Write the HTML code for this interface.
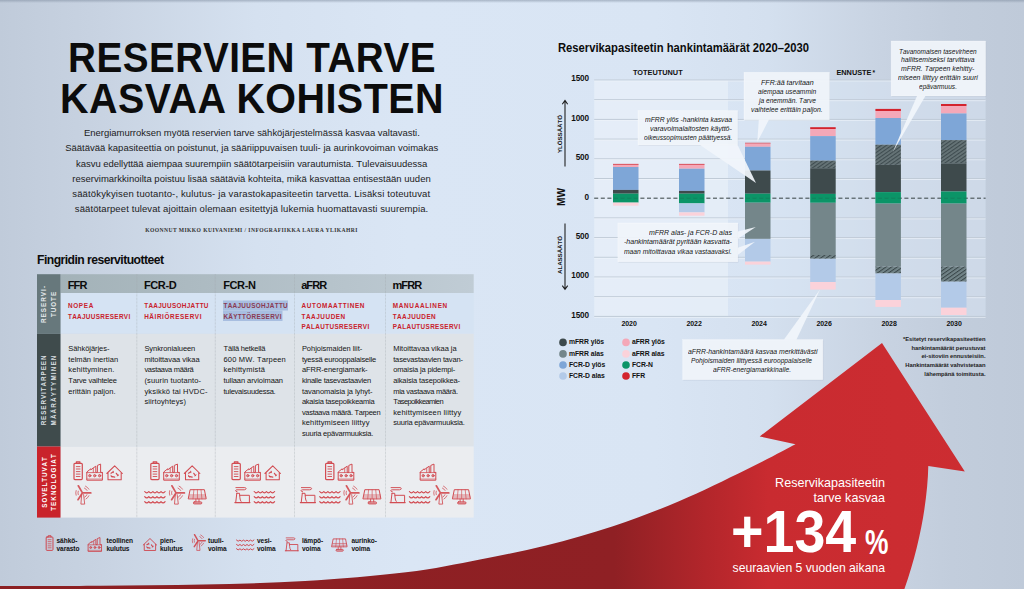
<!DOCTYPE html>
<html lang="fi"><head><meta charset="utf-8"><title>Reservien tarve kasvaa kohisten</title>
<style>
*{margin:0;padding:0;box-sizing:border-box}
html,body{width:1024px;height:589px;overflow:hidden}
body{font-family:"Liberation Sans", sans-serif;color:#111;position:relative;
background:linear-gradient(90deg,#c0cbda 0%,#c8d3e2 10%,#d5e1f0 25%,#dae6f5 40%,#d9e5f4 64%,#d4e0ef 75%,#c9d4e3 85%,#c2cddc 93%,#bfcad9 100%);}
.abs{position:absolute;white-space:nowrap}
#stage{position:absolute;left:0;top:0;width:1024px;height:589px;overflow:hidden}
svg{position:absolute;left:0;top:0}
.t1{font-weight:700;font-size:42px;line-height:42px;letter-spacing:0.5px;color:#0c0c0c;transform-origin:0 0}
.para{line-height:15px;color:#1c1c1c;white-space:nowrap}
.by{font-family:"Liberation Serif", serif;font-weight:700;font-size:5.6px;letter-spacing:0.42px;color:#333}
.h2{font-weight:700;font-size:12.2px;color:#0c0c0c;letter-spacing:-0.55px}
.colh{font-weight:700;color:#0c0c0c}
.sub{font-weight:700;line-height:10.5px;color:#c9222c;white-space:nowrap}
.body{line-height:10.4px;color:#141414;white-space:nowrap}
.side{font-weight:700;font-size:6px;line-height:8.5px;letter-spacing:1.5px;color:#fff;text-align:center;white-space:nowrap;transform:rotate(-90deg);transform-origin:50% 50%}
.leg{font-weight:700;font-size:6.55px;line-height:8.3px;letter-spacing:-0.05px;color:#111;white-space:nowrap}
.ct{font-weight:700;color:#0c0c0c}
.ax{font-weight:700;font-size:8.2px;line-height:10px;letter-spacing:-0.1px;color:#111;text-align:right}
.yr{font-weight:700;font-size:7px;letter-spacing:-0.1px;color:#111;text-align:center}
.cap{font-weight:700;font-size:7.35px;color:#111}
.call{font-style:italic;color:#151515;white-space:nowrap}
.cl{font-weight:700;font-size:6.8px;letter-spacing:-0.05px;color:#111}
.fn{font-weight:700;font-size:5.8px;line-height:8.9px;color:#222;text-align:right;white-space:nowrap}
.rot{transform:rotate(-90deg);transform-origin:50% 50%;font-weight:700;white-space:nowrap}
.w{color:#fff}
</style></head>
<body><div id="stage">
<svg width="1024" height="589" viewBox="0 0 1024 589">
<defs>
<linearGradient id="tg" x1="0" y1="0" x2="0" y2="1"><stop offset="0" stop-color="#7f8da0" stop-opacity="0.55"/><stop offset="1" stop-color="#7f8da0" stop-opacity="0"/></linearGradient>
<linearGradient id="rg" x1="0" y1="0" x2="1024" y2="0" gradientUnits="userSpaceOnUse">
<stop offset="0" stop-color="#8b1f22"/><stop offset="0.6" stop-color="#8f2024"/><stop offset="0.69" stop-color="#b3262b"/><stop offset="0.75" stop-color="#c92b30"/><stop offset="1" stop-color="#cd2d32"/>
</linearGradient>
<linearGradient id="hg" x1="60" y1="0" x2="474" y2="0" gradientUnits="userSpaceOnUse">
<stop offset="0" stop-color="#a3b2b8"/><stop offset="1" stop-color="#c0ccd5"/>
</linearGradient>
<pattern id="hat" width="3" height="3" patternUnits="userSpaceOnUse" patternTransform="rotate(-35)">
<rect width="3" height="3" fill="#667477"/><rect width="3" height="1.1" fill="#3f4c50"/>
</pattern>
<pattern id="hat2" width="3.2" height="3.2" patternUnits="userSpaceOnUse" patternTransform="rotate(-35)">
<rect width="3.2" height="3.2" fill="#728488"/><rect width="3.2" height="1" fill="#394649"/>
</pattern>
<g id="bat" fill="none" stroke="#cf363d" stroke-linejoin="round" stroke-linecap="round">
<path stroke-width="1.2" d="M3.1 2.2V0.7H6.6V2.2M1.7 2.2H8Q9 2.2 9 3.2V17.5Q9 18.5 8 18.5H1.7Q0.7 18.5 0.7 17.5V3.2Q0.7 2.2 1.7 2.2Z"/>
<path stroke-width="0.9" d="M3 5.5H6.7M3 7.9H6.7M3 10.5H6.7M3 13H6.7M3 15.4H6.7"/>
</g>
<g id="fac" fill="none" stroke="#cf363d" stroke-linejoin="round" stroke-linecap="round">
<path stroke-width="1" d="M0.6 16.3V8.5L4.6 5.3V6.4L7.1 4.4L9.6 2.7V8.9H11.2V1.9L14.4 0.6V8.9H16.2V16.3Z"/>
<path stroke-width="0.8" d="M7.1 4.6V8.9M0.6 9.1H16.2"/>
<path stroke-width="0.6" d="M0.6 15.5H16.2"/>
<circle cx="3.6" cy="12.2" r="1.15" fill="#cf363d" fill-opacity="0.55" stroke-width="0.9"/><circle cx="8.5" cy="12.2" r="1.15" fill="#cf363d" fill-opacity="0.55" stroke-width="0.9"/><circle cx="13.4" cy="12.2" r="1.15" fill="#cf363d" fill-opacity="0.55" stroke-width="0.9"/>
</g>
<g id="hou" fill="none" stroke="#cf363d" stroke-linejoin="round" stroke-linecap="round">
<path stroke-width="1.05" d="M0.5 8.2L8.35 0.6L16.1 8.2M1.7 7.3V14.5H14.9V7.3"/>
<path stroke-width="1.25" d="M4.7 7.9L6.7 6.6M10 8L11.6 10.2M5 11L8.4 11.8"/>
<path stroke-width="0.8" d="M6.9 5.9L7.1 7.4M12.4 9.6L10.9 10.6M4.6 9.9L5.6 11.9"/>
</g>
<g id="win" fill="none" stroke="#cf363d" stroke-linejoin="round" stroke-linecap="round">
<path stroke-width="1.7" stroke-opacity="0.92" d="M7.5 7.8L3.5 1M8 8.1H16M7.4 8.5L3.2 14.9"/>
<path stroke-width="0.85" d="M6.9 9.8L6.1 19.3H9.9L8.8 9.8"/>
<path stroke-width="0.75" d="M9.65 3.28A5.2 5.2 0 0 1 12.29 5.66M10.71 1.34A7.4 7.4 0 0 1 14.11 4.40M3.43 9.82A4.6 4.6 0 0 1 3.43 6.38M1.31 10.43A6.8 6.8 0 0 1 1.31 5.77M12.15 9.90A4.8 4.8 0 0 1 9.95 12.34M14.09 10.95A7.0 7.0 0 0 1 11.20 14.16"/>
</g>
<g id="wav" fill="none" stroke="#cf363d" stroke-width="1.15" stroke-linejoin="round" stroke-linecap="round">
<path d="M0.5 0.60Q2.54 3.30 4.58 0.60Q6.62 3.30 8.66 0.60Q10.70 3.30 12.74 0.60Q14.78 3.30 16.82 0.60Q18.86 3.30 20.90 0.60"/><path d="M0.5 5.70Q2.54 8.40 4.58 5.70Q6.62 8.40 8.66 5.70Q10.70 8.40 12.74 5.70Q14.78 8.40 16.82 5.70Q18.86 8.40 20.90 5.70"/><path d="M0.5 10.70Q2.54 13.40 4.58 10.70Q6.62 13.40 8.66 10.70Q10.70 13.40 12.74 10.70Q14.78 13.40 16.82 10.70Q18.86 13.40 20.90 10.70"/>
</g>
<g id="pla" fill="none" stroke="#cf363d" stroke-linejoin="round" stroke-linecap="round">
<path stroke-width="1.25" d="M0.4 15.8H15.4"/>
<path stroke-width="1" d="M2.3 6.5H5L5.4 11Q5.6 13.6 6.5 14.6M2.3 6.5L1.2 15.8M5.3 8.5H14.9V15.8"/>
<path stroke-width="0.95" d="M2.6 5Q1 4.8 1.1 3.7Q1.3 3 2.4 3H9.8Q11.5 2.8 11.6 1.9Q11.4 0.8 10.3 0.8H1.4"/>
</g>
<g id="sol" fill="none" stroke="#cf363d" stroke-linejoin="round" stroke-linecap="round">
<path stroke-width="1" d="M2.3 0.6H16.2L18 9.8H0.4Z"/>
<path stroke-width="0.65" d="M1.2 5.9H17.3M0.8 7.9H17.7M5.7 0.6L4.8 9.8M9.25 0.6V9.8M12.8 0.6L13.7 9.8"/>
<path stroke-width="0.9" d="M7.7 9.9V12.8M10.8 9.9V12.8"/>
<rect x="5.2" y="12.8" width="8.4" height="2" rx="0.9" stroke-width="1" fill="#cf363d" fill-opacity="0.35"/>
</g>
</defs>
<rect x="0" y="0" width="1024" height="3" fill="url(#tg)"/>
<path d="M0 586 C16.7 586.0 66.2 586.0 100 585.7 C133.8 585.5 168.8 585.3 203 584.5 C237.2 583.7 271.2 583.0 305 581 C338.8 579.0 376.8 575.9 406 572.3 C435.2 568.7 456.7 563.9 480 559.4 C503.3 554.9 523.8 551.0 546 545.5 C568.2 540.0 590.8 533.6 613 526.2 C635.2 518.8 656.8 510.7 679 501.3 C701.2 491.9 726.6 479.3 746 469.8 C765.4 460.3 787.2 448.5 795.5 444.2 L759.7 436.4 L882 343 L964.8 471.5 L928.3 466 C927.6 500 920 545 904.4 589 L0 589 Z" fill="url(#rg)"/>
<rect x="60.5" y="274.2" width="413.2" height="18.80000000000001" fill="url(#hg)"/>
<rect x="60.5" y="293" width="413.2" height="40.80000000000001" fill="#d5e3f3"/>
<rect x="60.5" y="333.8" width="413.2" height="112.69999999999999" fill="#dee3e8"/>
<rect x="60.5" y="446.5" width="413.2" height="71.10000000000002" fill="#ebedf0"/>
<rect x="37" y="274.2" width="23.5" height="59.60000000000002" fill="#67787c"/>
<rect x="37" y="333.8" width="23.5" height="112.69999999999999" fill="#3f4b4c"/>
<rect x="37" y="446.5" width="23.5" height="71.10000000000002" fill="#c9232b"/>
<line x1="136.8" y1="274.2" x2="136.8" y2="517.6" stroke="#a3abb0" stroke-width="0.7" stroke-dasharray="0.7 0.7" opacity="0.75"/>
<line x1="215.3" y1="274.2" x2="215.3" y2="517.6" stroke="#a3abb0" stroke-width="0.7" stroke-dasharray="0.7 0.7" opacity="0.75"/>
<line x1="294.5" y1="274.2" x2="294.5" y2="517.6" stroke="#a3abb0" stroke-width="0.7" stroke-dasharray="0.7 0.7" opacity="0.75"/>
<line x1="385.5" y1="274.2" x2="385.5" y2="517.6" stroke="#a3abb0" stroke-width="0.7" stroke-dasharray="0.7 0.7" opacity="0.75"/>
<rect x="223" y="300.5" width="65" height="10" fill="#a8bee0"/>
<rect x="223" y="310.5" width="59.5" height="10.5" fill="#a8bee0"/>
<use href="#bat" x="73.3" y="461.1" opacity="0.88"/>
<use href="#fac" x="86.2" y="463.5" opacity="0.88"/>
<use href="#hou" x="106.3" y="465.3" opacity="0.88"/>
<use href="#win" x="74.8" y="484.8" opacity="0.88"/>
<use href="#bat" x="150.1" y="461.1" opacity="0.88"/>
<use href="#fac" x="163.1" y="463.5" opacity="0.88"/>
<use href="#hou" x="183.8" y="465.3" opacity="0.88"/>
<use href="#wav" x="144.2" y="490.9" opacity="0.88"/>
<use href="#win" x="168.4" y="484.8" opacity="0.88"/>
<use href="#sol" x="188.2" y="489.1" opacity="0.88"/>
<use href="#bat" x="231.3" y="461.1" opacity="0.88"/>
<use href="#fac" x="244.2" y="463.5" opacity="0.88"/>
<use href="#hou" x="264.4" y="465.3" opacity="0.88"/>
<use href="#pla" x="234.5" y="486.8" opacity="0.88"/>
<use href="#wav" x="253.7" y="490.9" opacity="0.88"/>
<use href="#bat" x="324.9" y="461.1" opacity="0.88"/>
<use href="#fac" x="337.6" y="463.5" opacity="0.88"/>
<use href="#pla" x="300.0" y="486.8" opacity="0.88"/>
<use href="#wav" x="319.2" y="490.9" opacity="0.88"/>
<use href="#win" x="342.9" y="484.8" opacity="0.88"/>
<use href="#sol" x="362.9" y="489.1" opacity="0.88"/>
<use href="#fac" x="419.6" y="463.5" opacity="0.88"/>
<use href="#pla" x="389.7" y="486.8" opacity="0.88"/>
<use href="#wav" x="408.9" y="490.9" opacity="0.88"/>
<use href="#win" x="432.8" y="484.8" opacity="0.88"/>
<use href="#sol" x="452.4" y="489.1" opacity="0.88"/>
<use href="#bat" transform="translate(45.6 535.2) scale(0.82)" opacity="0.9"/>
<use href="#fac" transform="translate(87.6 537.0) scale(0.86)" opacity="0.9"/>
<use href="#hou" transform="translate(142.8 538.0) scale(0.86)" opacity="0.9"/>
<use href="#win" transform="translate(191.5 533.8) scale(0.86)" opacity="0.9"/>
<use href="#wav" transform="translate(236.0 539.6) scale(0.86)" opacity="0.9"/>
<use href="#pla" transform="translate(285.0 537.2) scale(0.86)" opacity="0.9"/>
<use href="#sol" transform="translate(331.6 538.4) scale(0.86)" opacity="0.9"/>
<rect x="594.2" y="80.6" width="133.79999999999995" height="235.8" fill="#e6eef8" opacity="0.85"/>
<rect x="728" y="80.6" width="257.6" height="235.8" fill="#dce8f7" opacity="0.48"/>
<line x1="594.2" y1="316.4" x2="985.6" y2="316.4" stroke="#c0cbd7" stroke-width="1"/>
<line x1="594.2" y1="317.4" x2="985.6" y2="317.4" stroke="#f0f5fb" stroke-width="0.8" opacity="0.8"/>
<line x1="594.2" y1="296.7" x2="985.6" y2="296.7" stroke="#c0cbd7" stroke-width="1"/>
<line x1="594.2" y1="297.7" x2="985.6" y2="297.7" stroke="#f0f5fb" stroke-width="0.8" opacity="0.8"/>
<line x1="594.2" y1="277.0" x2="985.6" y2="277.0" stroke="#c0cbd7" stroke-width="1"/>
<line x1="594.2" y1="278.0" x2="985.6" y2="278.0" stroke="#f0f5fb" stroke-width="0.8" opacity="0.8"/>
<line x1="594.2" y1="257.3" x2="985.6" y2="257.3" stroke="#c0cbd7" stroke-width="1"/>
<line x1="594.2" y1="258.3" x2="985.6" y2="258.3" stroke="#f0f5fb" stroke-width="0.8" opacity="0.8"/>
<line x1="594.2" y1="237.6" x2="985.6" y2="237.6" stroke="#c0cbd7" stroke-width="1"/>
<line x1="594.2" y1="238.6" x2="985.6" y2="238.6" stroke="#f0f5fb" stroke-width="0.8" opacity="0.8"/>
<line x1="594.2" y1="217.9" x2="985.6" y2="217.9" stroke="#c0cbd7" stroke-width="1"/>
<line x1="594.2" y1="218.9" x2="985.6" y2="218.9" stroke="#f0f5fb" stroke-width="0.8" opacity="0.8"/>
<line x1="594.2" y1="178.5" x2="985.6" y2="178.5" stroke="#c0cbd7" stroke-width="1"/>
<line x1="594.2" y1="179.5" x2="985.6" y2="179.5" stroke="#f0f5fb" stroke-width="0.8" opacity="0.8"/>
<line x1="594.2" y1="158.8" x2="985.6" y2="158.8" stroke="#c0cbd7" stroke-width="1"/>
<line x1="594.2" y1="159.8" x2="985.6" y2="159.8" stroke="#f0f5fb" stroke-width="0.8" opacity="0.8"/>
<line x1="594.2" y1="139.1" x2="985.6" y2="139.1" stroke="#c0cbd7" stroke-width="1"/>
<line x1="594.2" y1="140.1" x2="985.6" y2="140.1" stroke="#f0f5fb" stroke-width="0.8" opacity="0.8"/>
<line x1="594.2" y1="119.4" x2="985.6" y2="119.4" stroke="#c0cbd7" stroke-width="1"/>
<line x1="594.2" y1="120.4" x2="985.6" y2="120.4" stroke="#f0f5fb" stroke-width="0.8" opacity="0.8"/>
<line x1="594.2" y1="99.7" x2="985.6" y2="99.7" stroke="#c0cbd7" stroke-width="1"/>
<line x1="594.2" y1="100.7" x2="985.6" y2="100.7" stroke="#f0f5fb" stroke-width="0.8" opacity="0.8"/>
<line x1="594.2" y1="80.0" x2="985.6" y2="80.0" stroke="#c0cbd7" stroke-width="1"/>
<line x1="594.2" y1="81.0" x2="985.6" y2="81.0" stroke="#f0f5fb" stroke-width="0.8" opacity="0.8"/>
<line x1="594.2" y1="198.2" x2="985.6" y2="198.2" stroke="#4a5558" stroke-width="1" stroke-dasharray="4 2.6"/>
<rect x="613.0" y="163.9" width="25.5" height="0.9" fill="#d3232d"/>
<rect x="613.0" y="164.8" width="25.5" height="2.2" fill="#f4a8b8"/>
<rect x="613.0" y="167" width="25.5" height="22.9" fill="#7ea6d7"/>
<rect x="613.0" y="189.9" width="25.5" height="3.8" fill="#3e4a4c"/>
<rect x="613.0" y="193.7" width="25.5" height="8.9" fill="#0b9467"/>
<rect x="613.0" y="202.6" width="25.5" height="3.1" fill="#fbd2da"/>
<rect x="679.0" y="163.9" width="25.5" height="0.9" fill="#d3232d"/>
<rect x="679.0" y="164.8" width="25.5" height="3.9" fill="#f4a8b8"/>
<rect x="679.0" y="168.7" width="25.5" height="22.2" fill="#7ea6d7"/>
<rect x="679.0" y="190.9" width="25.5" height="2.8" fill="#3e4a4c"/>
<rect x="679.0" y="193.7" width="25.5" height="9.7" fill="#0b9467"/>
<rect x="679.0" y="203.4" width="25.5" height="9.0" fill="#b3cae8"/>
<rect x="679.0" y="212.4" width="25.5" height="3.3" fill="#fbd2da"/>
<rect x="745.0" y="142.8" width="25.5" height="0.8" fill="#d3232d"/>
<rect x="745.0" y="143.6" width="25.5" height="3.2" fill="#f4a8b8"/>
<rect x="745.0" y="146.8" width="25.5" height="23.7" fill="#7ea6d7"/>
<rect x="745.0" y="170.5" width="25.5" height="23.2" fill="#3e4a4c"/>
<rect x="745.0" y="193.7" width="25.5" height="9.0" fill="#0b9467"/>
<rect x="745.0" y="202.7" width="25.5" height="36.2" fill="#74868a"/>
<rect x="745.0" y="238.9" width="25.5" height="22.7" fill="#b3cae8"/>
<rect x="745.0" y="261.6" width="25.5" height="3.0" fill="#fbd2da"/>
<rect x="810.2" y="127.2" width="25.5" height="1.8" fill="#d3232d"/>
<rect x="810.2" y="129" width="25.5" height="7.1" fill="#f4a8b8"/>
<rect x="810.2" y="136.1" width="25.5" height="24.5" fill="#7ea6d7"/>
<rect x="810.2" y="160.6" width="25.5" height="7.6" fill="url(#hat)"/>
<rect x="810.2" y="168.2" width="25.5" height="25.7" fill="#3e4a4c"/>
<rect x="810.2" y="193.9" width="25.5" height="8.9" fill="#0b9467"/>
<rect x="810.2" y="202.8" width="25.5" height="52.2" fill="#74868a"/>
<rect x="810.2" y="255" width="25.5" height="3.8" fill="url(#hat2)"/>
<rect x="810.2" y="258.8" width="25.5" height="23.2" fill="#b3cae8"/>
<rect x="810.2" y="282" width="25.5" height="7.6" fill="#fbd2da"/>
<rect x="875.4" y="108.9" width="25.5" height="2.1" fill="#d3232d"/>
<rect x="875.4" y="111" width="25.5" height="7.0" fill="#f4a8b8"/>
<rect x="875.4" y="118" width="25.5" height="26.7" fill="#7ea6d7"/>
<rect x="875.4" y="144.7" width="25.5" height="20.2" fill="url(#hat)"/>
<rect x="875.4" y="164.9" width="25.5" height="27.2" fill="#3e4a4c"/>
<rect x="875.4" y="192.1" width="25.5" height="11.5" fill="#0b9467"/>
<rect x="875.4" y="203.6" width="25.5" height="62.8" fill="#74868a"/>
<rect x="875.4" y="266.4" width="25.5" height="7.1" fill="url(#hat2)"/>
<rect x="875.4" y="273.5" width="25.5" height="26.5" fill="#b3cae8"/>
<rect x="875.4" y="300" width="25.5" height="6.9" fill="#fbd2da"/>
<rect x="941.0" y="104" width="25.5" height="2.1" fill="#d3232d"/>
<rect x="941.0" y="106.1" width="25.5" height="7.4" fill="#f4a8b8"/>
<rect x="941.0" y="113.5" width="25.5" height="26.6" fill="#7ea6d7"/>
<rect x="941.0" y="140.1" width="25.5" height="23.2" fill="url(#hat)"/>
<rect x="941.0" y="163.3" width="25.5" height="28.2" fill="#3e4a4c"/>
<rect x="941.0" y="191.5" width="25.5" height="12.1" fill="#0b9467"/>
<rect x="941.0" y="203.6" width="25.5" height="62.8" fill="#74868a"/>
<rect x="941.0" y="266.4" width="25.5" height="15.3" fill="url(#hat2)"/>
<rect x="941.0" y="281.7" width="25.5" height="26.0" fill="#b3cae8"/>
<rect x="941.0" y="307.7" width="25.5" height="7.3" fill="#fbd2da"/>
<line x1="594.2" y1="198.2" x2="985.6" y2="198.2" stroke="#2f3a3c" stroke-opacity="0.22" stroke-width="1" stroke-dasharray="4 2.6"/>
<path d="M565 166.4V101M562.3 104.2L565 100.4L567.7 104.2" fill="none" stroke="#1a1a1a" stroke-width="1.05"/>
<path d="M565 223.6V288.8M562.3 285.6L565 289.4L567.7 285.6" fill="none" stroke="#1a1a1a" stroke-width="1.05"/>
<rect x="638.6" y="111.5" width="99.6" height="34.4" fill="#7d8b9d" fill-opacity="0.16"/>
<rect x="638" y="110.6" width="99.6" height="34.4" fill="#f1f5fb" fill-opacity="0.93" stroke="#ffffff" stroke-opacity="0.5" stroke-width="0.5"/>
<polygon points="700,145 737.6,145 756,183" fill="#f1f5fb" fill-opacity="0.93"/>
<rect x="744.6" y="73.2" width="85.4" height="47.5" fill="#7d8b9d" fill-opacity="0.16"/>
<rect x="744" y="72.3" width="85.4" height="47.5" fill="#f1f5fb" fill-opacity="0.93" stroke="#ffffff" stroke-opacity="0.5" stroke-width="0.5"/>
<polygon points="758.8,119.6 769,119.6 757.3,142" fill="#f1f5fb" fill-opacity="0.93"/>
<rect x="891.7" y="41.9" width="94.5" height="55.0" fill="#7d8b9d" fill-opacity="0.16"/>
<rect x="891.1" y="41" width="94.5" height="55.0" fill="#f1f5fb" fill-opacity="0.93" stroke="#ffffff" stroke-opacity="0.5" stroke-width="0.5"/>
<polygon points="917,96 925.4,96 892.7,152.3" fill="#f1f5fb" fill-opacity="0.93"/>
<rect x="618.5" y="223.9" width="119.9" height="38.8" fill="#7d8b9d" fill-opacity="0.16"/>
<rect x="617.9" y="223" width="119.9" height="38.8" fill="#f1f5fb" fill-opacity="0.93" stroke="#ffffff" stroke-opacity="0.5" stroke-width="0.5"/>
<polygon points="737.8,231.4 737.8,238.8 755.8,226.9" fill="#f1f5fb" fill-opacity="0.93"/>
<polygon points="737.8,247.8 737.8,255 755,241.8" fill="#f1f5fb" fill-opacity="0.93"/>
<rect x="683.3000000000001" y="340.5" width="140.1" height="40.1" fill="#7d8b9d" fill-opacity="0.16"/>
<rect x="682.7" y="339.6" width="140.1" height="40.1" fill="#f1f5fb" fill-opacity="0.93" stroke="#ffffff" stroke-opacity="0.5" stroke-width="0.5"/>
<polygon points="783.8,339.8 796.4,339.8 820,289.6" fill="#f1f5fb" fill-opacity="0.93"/>
<circle cx="563" cy="342.4" r="3.8" fill="#3e4a4c"/>
<circle cx="563" cy="353.9" r="3.8" fill="#74868a"/>
<circle cx="563" cy="365" r="3.8" fill="#7ea6d7"/>
<circle cx="563" cy="376" r="3.8" fill="#b3cae8"/>
<circle cx="626" cy="342.4" r="3.8" fill="#f4a8b8"/>
<circle cx="626" cy="353.9" r="3.8" fill="#fbd2da"/>
<circle cx="626" cy="365" r="3.8" fill="#0b9467"/>
<circle cx="626" cy="376" r="3.8" fill="#d3232d"/>
</svg>
<div class="abs t1" style="left:68.2px;top:37px;transform:scaleX(0.921)">RESERVIEN TARVE</div>
<div class="abs t1" style="left:60.2px;top:78px;transform:scaleX(0.939)">KASVAA KOHISTEN</div>
<div class="abs para" style="left:84.00px;top:125.4px;font-size:9.5px;letter-spacing:-0.028px;font-kerning:none;">Energiamurroksen myötä reservien tarve sähköjärjestelmässä kasvaa valtavasti.</div>
<div class="abs para" style="left:65.20px;top:140.48000000000002px;font-size:9.5px;letter-spacing:0.008px;font-kerning:none;">Säätävää kapasiteettia on poistunut, ja sääriippuvaisen tuuli- ja aurinkovoiman voimakas</div>
<div class="abs para" style="left:76.00px;top:155.56px;font-size:9.5px;letter-spacing:-0.033px;font-kerning:none;">kasvu edellyttää aiempaa suurempiin säätötarpeisiin varautumista. Tulevaisuudessa</div>
<div class="abs para" style="left:72.30px;top:170.64000000000001px;font-size:9.5px;letter-spacing:0.011px;font-kerning:none;">reservimarkkinoilta poistuu lisää säätäviä kohteita, mikä kasvattaa entisestään uuden</div>
<div class="abs para" style="left:72.30px;top:185.72px;font-size:9.5px;letter-spacing:0.143px;font-kerning:none;">säätökykyisen tuotanto-, kulutus- ja varastokapasiteetin tarvetta. Lisäksi toteutuvat</div>
<div class="abs para" style="left:74.80px;top:200.8px;font-size:9.5px;letter-spacing:0.106px;font-kerning:none;">säätötarpeet tulevat ajoittain olemaan esitettyjä lukemia huomattavasti suurempia.</div>
<div class="abs by" style="left:51.5px;top:227px;width:400px;text-align:center">KOONNUT MIKKO KUIVANIEMI / INFOGRAFIIKKA LAURA YLIKAHRI</div>
<div class="abs h2" style="left:37px;top:253.2px;">Fingridin reservituotteet</div>
<div class="abs colh" style="left:67.65px;top:278.6px;font-size:11px;letter-spacing:-0.816px;font-kerning:none;">FFR</div>
<div class="abs colh" style="left:143.90px;top:278.6px;font-size:11px;letter-spacing:-0.366px;font-kerning:none;">FCR-D</div>
<div class="abs colh" style="left:223.15px;top:278.6px;font-size:11px;letter-spacing:-0.366px;font-kerning:none;">FCR-N</div>
<div class="abs colh" style="left:301.15px;top:278.6px;font-size:11px;letter-spacing:-0.908px;font-kerning:none;">aFRR</div>
<div class="abs colh" style="left:392.40px;top:278.6px;font-size:11px;letter-spacing:-0.879px;font-kerning:none;">mFRR</div>
<div class="abs sub" style="left:67.95px;top:301.0px;font-size:6.4px;letter-spacing:0.648px;font-kerning:none;">NOPEA</div>
<div class="abs sub" style="left:67.95px;top:311.5px;font-size:6.4px;letter-spacing:0.310px;font-kerning:none;">TAAJUUSRESERVI</div>
<div class="abs sub" style="left:144.20px;top:301.0px;font-size:6.4px;letter-spacing:0.300px;font-kerning:none;">TAAJUUSOHJATTU</div>
<div class="abs sub" style="left:144.20px;top:311.5px;font-size:6.4px;letter-spacing:0.571px;font-kerning:none;">HÄIRIÖRESERVI</div>
<div class="abs sub" style="left:223.45px;top:301.0px;font-size:6.4px;letter-spacing:0.300px;font-kerning:none;color:#8a3a52">TAAJUUSOHJATTU</div>
<div class="abs sub" style="left:223.45px;top:311.5px;font-size:6.4px;letter-spacing:0.308px;font-kerning:none;color:#8a3a52">KÄYTTÖRESERVI</div>
<div class="abs sub" style="left:301.45px;top:301.0px;font-size:6.4px;letter-spacing:0.607px;font-kerning:none;">AUTOMAATTINEN</div>
<div class="abs sub" style="left:301.45px;top:311.5px;font-size:6.4px;letter-spacing:0.548px;font-kerning:none;">TAAJUUDEN</div>
<div class="abs sub" style="left:301.45px;top:322.0px;font-size:6.4px;letter-spacing:0.351px;font-kerning:none;">PALAUTUSRESERVI</div>
<div class="abs sub" style="left:392.70px;top:301.0px;font-size:6.4px;letter-spacing:0.696px;font-kerning:none;">MANUAALINEN</div>
<div class="abs sub" style="left:392.70px;top:311.5px;font-size:6.4px;letter-spacing:0.454px;font-kerning:none;">TAAJUUDEN</div>
<div class="abs sub" style="left:392.70px;top:322.0px;font-size:6.4px;letter-spacing:0.333px;font-kerning:none;">PALAUTUSRESERVI</div>
<div class="abs body" style="left:68.30px;top:344.3px;font-size:7.5px;letter-spacing:-0.053px;font-kerning:none;">Sähköjärjes-</div>
<div class="abs body" style="left:68.30px;top:354.88px;font-size:7.5px;letter-spacing:0.043px;font-kerning:none;">telmän inertian</div>
<div class="abs body" style="left:68.30px;top:365.46000000000004px;font-size:7.5px;letter-spacing:0.151px;font-kerning:none;">kehittyminen.</div>
<div class="abs body" style="left:68.30px;top:376.04px;font-size:7.5px;letter-spacing:-0.184px;font-kerning:none;">Tarve vaihtelee</div>
<div class="abs body" style="left:68.30px;top:386.62px;font-size:7.5px;letter-spacing:0.034px;font-kerning:none;">erittäin paljon.</div>
<div class="abs body" style="left:144.40px;top:344.3px;font-size:7.5px;letter-spacing:-0.062px;font-kerning:none;">Synkronialueen</div>
<div class="abs body" style="left:144.40px;top:354.88px;font-size:7.5px;letter-spacing:-0.041px;font-kerning:none;">mitoittavaa vikaa</div>
<div class="abs body" style="left:144.40px;top:365.46000000000004px;font-size:7.5px;letter-spacing:-0.305px;font-kerning:none;">vastaava määrä</div>
<div class="abs body" style="left:144.40px;top:376.04px;font-size:7.5px;letter-spacing:0.130px;font-kerning:none;">(suurin tuotanto-</div>
<div class="abs body" style="left:144.40px;top:386.62px;font-size:7.5px;letter-spacing:0.167px;font-kerning:none;">yksikkö tai HVDC-</div>
<div class="abs body" style="left:144.40px;top:397.2px;font-size:7.5px;letter-spacing:0.124px;font-kerning:none;">siirtoyhteys)</div>
<div class="abs body" style="left:223.50px;top:344.3px;font-size:7.5px;letter-spacing:-0.169px;font-kerning:none;">Tällä hetkellä</div>
<div class="abs body" style="left:223.50px;top:354.88px;font-size:7.5px;letter-spacing:0.162px;font-kerning:none;">600 MW. Tarpeen</div>
<div class="abs body" style="left:223.50px;top:365.46000000000004px;font-size:7.5px;letter-spacing:0.155px;font-kerning:none;">kehittymistä</div>
<div class="abs body" style="left:223.50px;top:376.04px;font-size:7.5px;letter-spacing:-0.080px;font-kerning:none;">tullaan arvioimaan</div>
<div class="abs body" style="left:223.50px;top:386.62px;font-size:7.5px;letter-spacing:-0.245px;font-kerning:none;">tulevaisuudessa.</div>
<div class="abs body" style="left:301.90px;top:344.3px;font-size:7.5px;letter-spacing:-0.031px;font-kerning:none;">Pohjoismaiden liit-</div>
<div class="abs body" style="left:301.90px;top:354.88px;font-size:7.5px;letter-spacing:-0.190px;font-kerning:none;">tyessä eurooppalaiselle</div>
<div class="abs body" style="left:301.90px;top:365.46000000000004px;font-size:7.5px;letter-spacing:-0.035px;font-kerning:none;">aFRR-energiamark-</div>
<div class="abs body" style="left:301.90px;top:376.04px;font-size:7.5px;letter-spacing:-0.194px;font-kerning:none;">kinalle tasevastaavien</div>
<div class="abs body" style="left:301.90px;top:386.62px;font-size:7.5px;letter-spacing:-0.072px;font-kerning:none;">tavanomaisia ja lyhyt-</div>
<div class="abs body" style="left:301.90px;top:397.2px;font-size:7.5px;letter-spacing:-0.226px;font-kerning:none;">akaisia tasepoikkeamia</div>
<div class="abs body" style="left:301.90px;top:407.78000000000003px;font-size:7.5px;letter-spacing:-0.307px;font-kerning:none;">vastaava määrä. Tarpeen</div>
<div class="abs body" style="left:301.90px;top:418.36px;font-size:7.5px;letter-spacing:0.145px;font-kerning:none;">kehittymiseen liittyy</div>
<div class="abs body" style="left:301.90px;top:428.94px;font-size:7.5px;letter-spacing:-0.198px;font-kerning:none;">suuria epävarmuuksia.</div>
<div class="abs body" style="left:393.20px;top:344.3px;font-size:7.5px;letter-spacing:-0.015px;font-kerning:none;">Mitoittavaa vikaa ja</div>
<div class="abs body" style="left:393.20px;top:354.88px;font-size:7.5px;letter-spacing:-0.158px;font-kerning:none;">tasevastaavien tavan-</div>
<div class="abs body" style="left:393.20px;top:365.46000000000004px;font-size:7.5px;letter-spacing:-0.139px;font-kerning:none;">omaisia ja pidempi-</div>
<div class="abs body" style="left:393.20px;top:376.04px;font-size:7.5px;letter-spacing:-0.136px;font-kerning:none;">aikaisia tasepoikkea-</div>
<div class="abs body" style="left:393.20px;top:386.62px;font-size:7.5px;letter-spacing:-0.267px;font-kerning:none;">mia vastaava määrä.</div>
<div class="abs body" style="left:393.20px;top:397.2px;font-size:7.5px;letter-spacing:-0.599px;font-kerning:none;">Tasepoikkeamien</div>
<div class="abs body" style="left:393.20px;top:407.78000000000003px;font-size:7.5px;letter-spacing:0.170px;font-kerning:none;">kehittymiseen liittyy</div>
<div class="abs body" style="left:393.20px;top:418.36px;font-size:7.5px;letter-spacing:-0.193px;font-kerning:none;">suuria epävarmuuksia.</div>
<div class="abs" style="left:44.4px;top:304.4px;font-weight:700;font-size:7.3px;line-height:7.3px;letter-spacing:1.237px;margin-right:-1.237px;font-kerning:none;color:#e4e9eb;transform:translate(-50%,-50%) rotate(-90deg) scaleX(0.86)">RESERVI-</div>
<div class="abs" style="left:54.0px;top:304.4px;font-weight:700;font-size:7.3px;line-height:7.3px;letter-spacing:1.141px;margin-right:-1.141px;font-kerning:none;color:#e4e9eb;transform:translate(-50%,-50%) rotate(-90deg) scaleX(0.86)">TUOTE</div>
<div class="abs" style="left:44.4px;top:390.3px;font-weight:700;font-size:7.3px;line-height:7.3px;letter-spacing:1.095px;margin-right:-1.095px;font-kerning:none;color:#d9dfe1;transform:translate(-50%,-50%) rotate(-90deg) scaleX(0.86)">RESERVITARPEEN</div>
<div class="abs" style="left:54.0px;top:390.3px;font-weight:700;font-size:7.3px;line-height:7.3px;letter-spacing:1.356px;margin-right:-1.356px;font-kerning:none;color:#d9dfe1;transform:translate(-50%,-50%) rotate(-90deg) scaleX(0.86)">MÄÄRÄYTYMINEN</div>
<div class="abs" style="left:44.6px;top:482.3px;font-weight:700;font-size:7.3px;line-height:7.3px;letter-spacing:1.072px;margin-right:-1.072px;font-kerning:none;color:#ffffff;transform:translate(-50%,-50%) rotate(-90deg) scaleX(0.86)">SOVELTUVAT</div>
<div class="abs" style="left:54.0px;top:482.4px;font-weight:700;font-size:7.3px;line-height:7.3px;letter-spacing:1.269px;margin-right:-1.269px;font-kerning:none;color:#ffffff;transform:translate(-50%,-50%) rotate(-90deg) scaleX(0.86)">TEKNOLOGIAT</div>
<div class="abs leg" style="left:56.5px;top:536.8px;">sähkö-<br>varasto</div>
<div class="abs leg" style="left:106.5px;top:536.8px;">teollinen<br>kulutus</div>
<div class="abs leg" style="left:160px;top:536.8px;">pien-<br>kulutus</div>
<div class="abs leg" style="left:208px;top:536.8px;">tuuli-<br>voima</div>
<div class="abs leg" style="left:257px;top:536.8px;">vesi-<br>voima</div>
<div class="abs leg" style="left:302px;top:536.8px;">lämpö-<br>voima</div>
<div class="abs leg" style="left:351.5px;top:536.8px;">aurinko-<br>voima</div>
<div class="abs ct" style="left:557.60px;top:41.2px;font-size:13.6px;line-height:13.6px;font-kerning:none;transform:scaleX(0.8265);transform-origin:0 0;">Reservikapasiteetin hankintamäärät 2020–2030</div>
<div class="abs cap" style="left:633.0px;top:68.3px;">TOTEUTUNUT</div>
<div class="abs cap" style="left:836.4px;top:68.3px;">ENNUSTE<span style="margin-left:1px;font-size:6.6px;position:relative;top:-0.6px">*</span></div>
<div class="abs ax" style="left:549px;width:40px;top:74.4px">1500</div>
<div class="abs ax" style="left:549px;width:40px;top:113.8px">1000</div>
<div class="abs ax" style="left:549px;width:40px;top:153.2px">500</div>
<div class="abs ax" style="left:549px;width:40px;top:192.6px">0</div>
<div class="abs ax" style="left:549px;width:40px;top:232.0px">500</div>
<div class="abs ax" style="left:549px;width:40px;top:271.4px">1000</div>
<div class="abs ax" style="left:549px;width:40px;top:310.8px">1500</div>
<div class="abs yr" style="left:609.1px;width:40px;top:320.2px">2020</div>
<div class="abs yr" style="left:674.1px;width:40px;top:320.2px">2022</div>
<div class="abs yr" style="left:739.1px;width:40px;top:320.2px">2024</div>
<div class="abs yr" style="left:804.1px;width:40px;top:320.2px">2026</div>
<div class="abs yr" style="left:869.1px;width:40px;top:320.2px">2028</div>
<div class="abs yr" style="left:934.1px;width:40px;top:320.2px">2030</div>
<div class="abs rot" style="left:519.8px;top:127.80000000000001px;width:80px;height:12px;line-height:12px;text-align:center;font-size:6.25px;letter-spacing:-0.1px">YLÖSSÄÄTÖ</div>
<div class="abs rot" style="left:519.8px;top:249px;width:80px;height:12px;line-height:12px;text-align:center;font-size:6.25px;letter-spacing:-0.1px">ALASSÄÄTÖ</div>
<div class="abs rot" style="left:522px;top:190.8px;width:80px;height:12px;line-height:12px;text-align:center;font-size:10.2px;letter-spacing:0px">MW</div>
<div class="abs call" style="left:645.20px;top:115.7px;font-size:7.4px;line-height:7.4px;font-kerning:none;transform:scaleX(0.9219);transform-origin:0 0;">mFRR ylös -hankinta kasvaa</div>
<div class="abs call" style="left:650.40px;top:124.8px;font-size:7.4px;line-height:7.4px;font-kerning:none;transform:scaleX(0.9539);transform-origin:0 0;">varavoimalaitosten käyttö-</div>
<div class="abs call" style="left:644.00px;top:133.6px;font-size:7.4px;line-height:7.4px;font-kerning:none;transform:scaleX(0.8917);transform-origin:0 0;">oikeussopimusten päättyessä.</div>
<div class="abs call" style="left:760.80px;top:79.3px;font-size:7.4px;line-height:7.4px;font-kerning:none;transform:scaleX(0.9581);transform-origin:0 0;">FFR:ää tarvitaan</div>
<div class="abs call" style="left:757.80px;top:88.3px;font-size:7.4px;line-height:7.4px;font-kerning:none;transform:scaleX(0.9013);transform-origin:0 0;">aiempaa useammin</div>
<div class="abs call" style="left:758.50px;top:97.1px;font-size:7.4px;line-height:7.4px;font-kerning:none;transform:scaleX(0.8957);transform-origin:0 0;">ja enemmän. Tarve</div>
<div class="abs call" style="left:751.00px;top:105.9px;font-size:7.4px;line-height:7.4px;font-kerning:none;transform:scaleX(0.9235);transform-origin:0 0;">vaihtelee erittäin paljon.</div>
<div class="abs call" style="left:899.00px;top:47.8px;font-size:7.4px;line-height:7.4px;font-kerning:none;transform:scaleX(0.8745);transform-origin:0 0;">Tavanomaisen tasevirheen</div>
<div class="abs call" style="left:901.00px;top:56.4px;font-size:7.4px;line-height:7.4px;font-kerning:none;transform:scaleX(0.9238);transform-origin:0 0;">hallitsemiseksi tarvittava</div>
<div class="abs call" style="left:901.00px;top:65.2px;font-size:7.4px;line-height:7.4px;font-kerning:none;transform:scaleX(0.9309);transform-origin:0 0;">mFRR. Tarpeen kehitty-</div>
<div class="abs call" style="left:897.90px;top:74.4px;font-size:7.4px;line-height:7.4px;font-kerning:none;transform:scaleX(0.9431);transform-origin:0 0;">miseen liittyy erittäin suuri</div>
<div class="abs call" style="left:918.60px;top:83.1px;font-size:7.4px;line-height:7.4px;font-kerning:none;transform:scaleX(0.8883);transform-origin:0 0;">epävarmuus.</div>
<div class="abs call" style="left:649.30px;top:229.2px;font-size:7.4px;line-height:7.4px;font-kerning:none;transform:scaleX(0.9433);transform-origin:0 0;">mFRR alas- ja FCR-D alas</div>
<div class="abs call" style="left:624.30px;top:238.1px;font-size:7.4px;line-height:7.4px;font-kerning:none;transform:scaleX(0.9479);transform-origin:0 0;">-hankintamäärät pyritään kasvatta-</div>
<div class="abs call" style="left:624.30px;top:247.5px;font-size:7.4px;line-height:7.4px;font-kerning:none;transform:scaleX(0.9117);transform-origin:0 0;">maan mitoittavaa vikaa vastaavaksi.</div>
<div class="abs call" style="left:687.50px;top:347.6px;font-size:7.4px;line-height:7.4px;font-kerning:none;transform:scaleX(0.9276);transform-origin:0 0;">aFRR-hankintamäärä kasvaa merkittävästi</div>
<div class="abs call" style="left:691.30px;top:356.9px;font-size:7.4px;line-height:7.4px;font-kerning:none;transform:scaleX(0.8983);transform-origin:0 0;">Pohjoismaiden liittyessä eurooppalaiselle</div>
<div class="abs call" style="left:713.30px;top:366.0px;font-size:7.4px;line-height:7.4px;font-kerning:none;transform:scaleX(0.9086);transform-origin:0 0;">aFRR-energiamarkkinalle.</div>
<div class="abs cl" style="left:569px;top:338.29999999999995px;">mFRR ylös</div>
<div class="abs cl" style="left:569px;top:349.79999999999995px;">mFRR alas</div>
<div class="abs cl" style="left:569px;top:360.9px;">FCR-D ylös</div>
<div class="abs cl" style="left:569px;top:371.9px;">FCR-D alas</div>
<div class="abs cl" style="left:632px;top:338.29999999999995px;">aFRR ylös</div>
<div class="abs cl" style="left:632px;top:349.79999999999995px;">aFRR alas</div>
<div class="abs cl" style="left:632px;top:360.9px;">FCR-N</div>
<div class="abs cl" style="left:632px;top:371.9px;">FFR</div>
<div class="abs fn" style="left:865px;width:120.5px;top:334.6px">*Esitetyt reservikapasiteettien<br>hankintamäärät perustuvat<br>ei-sitoviin ennusteisiin.<br>Hankintamäärät vahvistetaan<br>lähempänä toimitusta.</div>
<div class="abs w" style="left:685px;width:200px;text-align:right;top:475.7px;font-size:12.6px;line-height:15px">Reservikapasiteetin</div>
<div class="abs w" style="left:685px;width:200px;text-align:right;top:490.7px;font-size:12.6px;line-height:15px">tarve kasvaa</div>
<div class="abs w" style="left:731.3px;top:499px;font-size:60px;line-height:66px;font-weight:700;transform:scaleX(0.927);transform-origin:0 0">+134</div>
<div class="abs w" style="left:865.4px;top:523px;font-size:34.5px;line-height:38px;font-weight:700;transform:scaleX(0.765);transform-origin:0 0">%</div>
<div class="abs w" style="left:685px;width:200px;text-align:right;top:560.6px;font-size:12.2px;line-height:15px">seuraavien 5 vuoden aikana</div>
</div></body></html>
